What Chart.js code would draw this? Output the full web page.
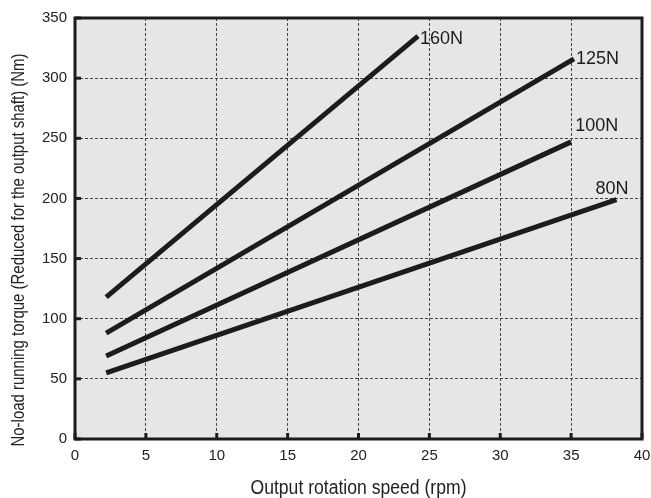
<!DOCTYPE html>
<html>
<head>
<meta charset="utf-8">
<script src="https://cdn.jsdelivr.net/npm/chart.js@4.4.0/dist/chart.umd.min.js"></script>
<style>
html, body { margin: 0; background: #fff; }
#wrap { width: 651px; height: 498px; }
</style>
</head>
<body>
<div id="wrap"><canvas id="chart"></canvas></div>
<script>
// data
const loads = ['160N', '125N', '100N', '80N'];
const speedStart = [2.2, 2.2, 2.2, 2.2];
const speedEnd = [24.2, 35.2, 35.0, 38.2];
const torqueStart = [118, 88, 69, 55];
const torqueEnd = [335, 316, 247, 199];
const xTicks = [0, 5, 10, 15, 20, 25, 30, 35, 40];
const yTicks = [0, 50, 100, 150, 200, 250, 300, 350];
const xTitle = 'Output rotation speed (rpm)';
const yTitle = 'No-load running torque (Reduced for the output shaft) (Nm)';

// label placement relative to the line end: dx, dy, align
const labelPos = [[2, 3, 'left'], [2, 0, 'left'], [4, -16, 'left'], [12, -11, 'right']];

const ink = '#1c1c1c';
const sans = '"Liberation Sans", Arial, sans-serif';
const tickFont = { family: sans, size: 15 };

const datasets = loads.map((name, i) => ({
    label: name,
    data: [{ x: speedStart[i], y: torqueStart[i] }, { x: speedEnd[i], y: torqueEnd[i] }],
    borderColor: ink,
    borderWidth: 5,
    pointRadius: 0,
    fill: false,
}));

// condensed axis title: squeeze the text to a given width
function narrowText(ctx, text, x, y, width, rot) {
    ctx.save();
    ctx.translate(x, y);
    ctx.rotate(rot);
    const w = ctx.measureText(text).width;
    ctx.scale(width / w, 1);
    ctx.textAlign = 'center';
    ctx.textBaseline = 'alphabetic';
    ctx.fillText(text, 0, 0);
    ctx.restore();
}

const decor = {
    id: 'decor',
    beforeDraw(chart) {
        const { ctx, chartArea: a } = chart;
        ctx.save();
        ctx.fillStyle = '#e6e6e6';
        ctx.fillRect(a.left, a.top, a.right - a.left, a.bottom - a.top);
        ctx.restore();
    },
    afterDraw(chart) {
        const { ctx, chartArea: a, scales } = chart;
        ctx.save();
        ctx.strokeStyle = ink;
        ctx.lineWidth = 3;
        // inner tick marks
        xTicks.forEach(v => {
            const px = scales.x.getPixelForValue(v);
            ctx.beginPath(); ctx.moveTo(px, a.bottom); ctx.lineTo(px, a.bottom - 6); ctx.stroke();
        });
        yTicks.forEach(v => {
            const py = scales.y.getPixelForValue(v);
            ctx.beginPath(); ctx.moveTo(a.left, py); ctx.lineTo(a.left + 6, py); ctx.stroke();
        });
        ctx.strokeRect(a.left, a.top, a.right - a.left, a.bottom - a.top);
        // line labels
        ctx.fillStyle = ink;
        ctx.font = '18px ' + sans;
        ctx.textBaseline = 'middle';
        loads.forEach((name, i) => {
            const px = scales.x.getPixelForValue(speedEnd[i]);
            const py = scales.y.getPixelForValue(torqueEnd[i]);
            const [dx, dy, al] = labelPos[i];
            ctx.textAlign = al;
            ctx.fillText(name, px + dx, py + dy);
        });
        // axis titles
        ctx.fillStyle = '#222';
        ctx.font = '20px ' + sans;
        narrowText(ctx, xTitle, (a.left + a.right) / 2, 494, 216, 0);
        ctx.font = '19px ' + sans;
        narrowText(ctx, yTitle, 24, 250, 393, -Math.PI / 2);
        ctx.restore();
    }
};

new Chart(document.getElementById('chart'), {
    type: 'line',
    data: { datasets },
    plugins: [decor],
    options: {
        responsive: true,
        maintainAspectRatio: false,
        animation: false,
        layout: { padding: { top: 18, right: 9, left: 0, bottom: 0 } },
        plugins: { legend: { display: false }, tooltip: { enabled: false } },
        scales: {
            x: {
                type: 'linear',
                min: 0, max: 40,
                afterFit: s => { s.height = 59; s.paddingRight = 0; s.paddingLeft = 0; },
                afterBuildTicks: s => { s.ticks = xTicks.map(v => ({ value: v })); },
                ticks: { color: '#222', font: tickFont, padding: 8, maxRotation: 0 },
                grid: { color: '#444', lineWidth: 1, drawTicks: false },
                border: { display: false, dash: [3, 2] }
            },
            y: {
                type: 'linear',
                min: 0, max: 350,
                afterFit: s => { s.width = 75; s.paddingTop = 0; s.paddingBottom = 0; },
                afterBuildTicks: s => { s.ticks = yTicks.map(v => ({ value: v })); },
                ticks: { color: '#222', font: tickFont, padding: 8 },
                grid: { color: '#444', lineWidth: 1, drawTicks: false },
                border: { display: false, dash: [3, 2] }
            }
        }
    }
});
</script>
</body>
</html>
